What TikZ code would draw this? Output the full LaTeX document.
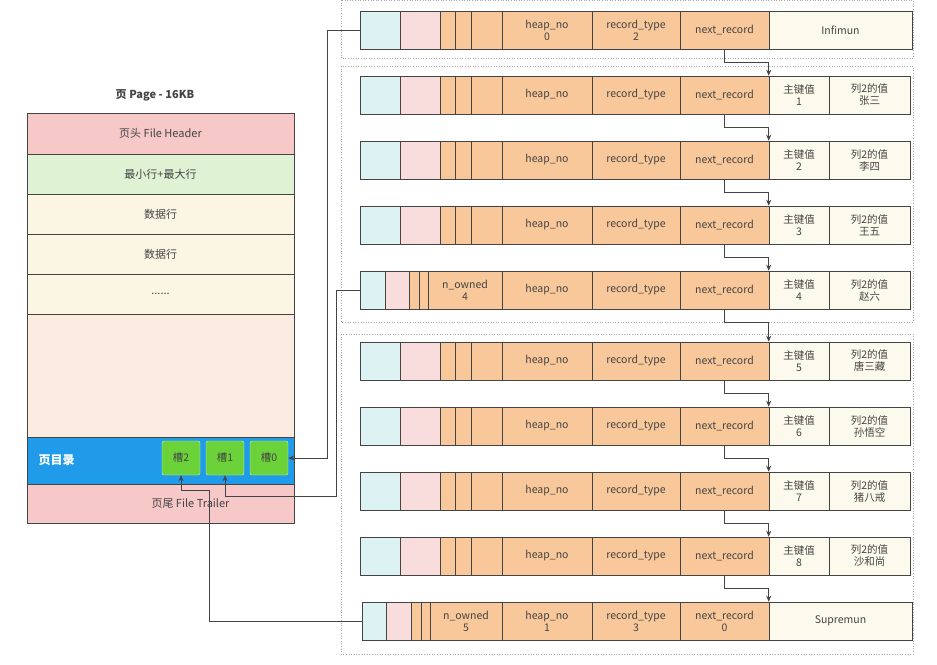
\documentclass[tikz,border=0pt]{standalone}
\usepackage{fontspec}
\setmainfont{Noto Sans CJK SC}
\usetikzlibrary{arrows.meta}
\definecolor{cy}{HTML}{DDF3F3}
\definecolor{pk}{HTML}{F9DCDC}
\definecolor{og}{HTML}{F8C89A}
\definecolor{cr}{HTML}{FCFAEC}
\definecolor{hd}{HTML}{F7C8C8}
\definecolor{gn}{HTML}{E0F2D4}
\definecolor{dr}{HTML}{FBF6E4}
\definecolor{pe}{HTML}{FCEBE0}
\definecolor{bl}{HTML}{1F9BE9}
\definecolor{sl}{HTML}{6CD23A}
\definecolor{ln}{HTML}{444444}
\newcommand\cell[6]{\node[cell,fill=#5,minimum width={(#3-#2)*1pt}] (#1) at ({(#2+#3)/2},#4) {#6};}
\newcommand\recrow[4]{%
\cell{#1a}{360}{400}{#2}{cy}{}\cell{#1b}{400}{440}{#2}{pk}{}%
\cell{#1c}{440}{455}{#2}{og}{}\cell{#1d}{455}{471}{#2}{og}{}\cell{#1e}{471}{502}{#2}{og}{}%
\cell{#1h}{502}{592}{#2}{og}{heap\_no}\cell{#1t}{592}{680}{#2}{og}{record\_type}%
\cell{#1n}{680}{769}{#2}{og}{next\_record}\cell{#1p}{769}{829}{#2}{cr}{主键值\\#3}\cell{#1v}{829}{910}{#2}{cr}{列2的值\\#4}}
\begin{document}
\begin{tikzpicture}[x=1pt,y=-1pt,
 cell/.style={draw=ln,line width=0.6pt,minimum height=38pt,inner sep=0pt,align=center,font=\fontsize{10.5}{12}\selectfont,text=ln},
 pg/.style={draw=ln,line width=0.6pt,minimum width=267pt,inner sep=0pt,font=\fontsize{11}{13}\selectfont,text=ln},
 slot/.style={draw=white!70!sl,fill=sl,rounded corners=2pt,minimum width=38pt,minimum height=34pt,inner sep=0pt,font=\fontsize{10.5}{12}\selectfont,text=ln},
 grp/.style={draw=gray!70,dotted,line width=0.6pt},
 arr/.style={draw=ln,line width=0.6pt,-{Stealth[length=6pt,width=5pt]}}]
\useasboundingbox (0,0) rectangle (937,664);
% page
\node[font=\bfseries\fontsize{11}{13}\selectfont,text=ln] (title) at (155,95) {页 Page - 16KB};
\node[pg,fill=hd,minimum height=41pt] (fh) at (160.5,133.5) {页头 File Header};
\node[pg,fill=gn,minimum height=40pt] (mm) at (160.5,174) {最小行+最大行};
\node[pg,fill=dr,minimum height=40pt] (d1) at (160.5,214) {数据行};
\node[pg,fill=dr,minimum height=40pt] (d2) at (160.5,254) {数据行};
\node[pg,fill=dr,minimum height=40pt] (dd) at (160.5,294) {......};
\node[pg,fill=pe,minimum height=123pt] (fr) at (160.5,375.5) {};
\node[pg,fill=bl,minimum height=47pt] (dir) at (160.5,460.5) {};
\node[font=\bfseries\fontsize{12}{14}\selectfont,text=white,anchor=west] (dirt) at (35,460) {页目录};
\node[pg,fill=hd,minimum height=39pt] (ft) at (160.5,503.5) {\hspace*{60pt}页尾 File Trailer};
\node[slot] (s2) at (181,458) {槽2};
\node[slot] (s1) at (225,458) {槽1};
\node[slot] (s0) at (269,458) {槽0};
% groups
\draw[grp] (341,0) rectangle (913,58);
\draw[grp] (341,66) rectangle (913,322);
\draw[grp] (341,334) rectangle (913,654);
% row 0 infimum
\cell{r0a}{360}{400}{30}{cy}{}\cell{r0b}{400}{440}{30}{pk}{}
\cell{r0c}{440}{455}{30}{og}{}\cell{r0d}{455}{471}{30}{og}{}\cell{r0e}{471}{502}{30}{og}{}
\cell{r0h}{502}{592}{30}{og}{heap\_no\\0}\cell{r0t}{592}{680}{30}{og}{record\_type\\2}
\cell{r0n}{680}{769}{30}{og}{next\_record}\cell{r0p}{769}{912}{30}{cr}{Infimun}
\recrow{r1}{95}{1}{张三}
\recrow{r2}{160}{2}{李四}
\recrow{r3}{225}{3}{王五}
% row 4 with n_owned
\cell{r4a}{360}{385}{290}{cy}{}\cell{r4b}{385}{409}{290}{pk}{}
\cell{r4c}{409}{419}{290}{og}{}\cell{r4d}{419}{428}{290}{og}{}\cell{r4e}{428}{502}{290}{og}{n\_owned\\4}
\cell{r4h}{502}{592}{290}{og}{heap\_no}\cell{r4t}{592}{680}{290}{og}{record\_type}
\cell{r4n}{680}{769}{290}{og}{next\_record}\cell{r4p}{769}{829}{290}{cr}{主键值\\4}\cell{r4v}{829}{910}{290}{cr}{列2的值\\赵六}
\recrow{r5}{361}{5}{唐三藏}
\recrow{r6}{426}{6}{孙悟空}
\recrow{r7}{491}{7}{猪八戒}
\recrow{r8}{556}{8}{沙和尚}
% supremum
\cell{r9a}{362}{386}{621}{cy}{}\cell{r9b}{386}{411}{621}{pk}{}
\cell{r9c}{411}{421}{621}{og}{}\cell{r9d}{421}{430}{621}{og}{}\cell{r9e}{430}{502}{621}{og}{n\_owned\\5}
\cell{r9h}{502}{592}{621}{og}{heap\_no\\1}\cell{r9t}{592}{680}{621}{og}{record\_type\\3}
\cell{r9n}{680}{769}{621}{og}{next\_record\\0}\cell{r9p}{769}{912}{621}{cr}{Supremun}
% next_record arrows
\foreach \a/\b in {r0/r1,r1/r2,r2/r3,r3/r4,r4/r5,r5/r6,r6/r7,r7/r8,r8/r9}
  \draw[arr] (\a n.south) -- ++(0,13) -| (\b p.north west);
% slot pointers
\draw[arr] (r0a.west) -- (327,30) |- (s0.east);
\draw[arr] (r4a.west) -- (336,290) -- (336,496) -| (s1.south);
\draw[arr] (r9a.west) -- (209,621) -- (209,490) -| (s2.south);
\end{tikzpicture}
\end{document}
